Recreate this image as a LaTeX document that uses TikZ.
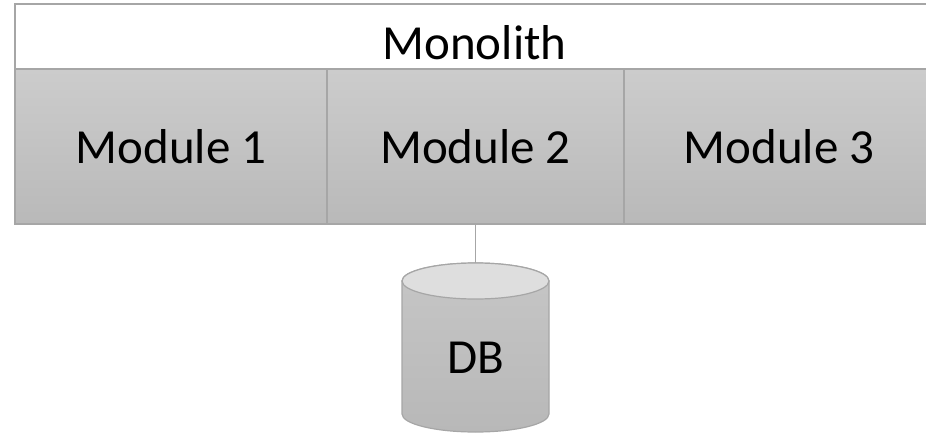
\documentclass[tikz,border=0pt]{standalone}
\usepackage{fontspec}
\setmainfont{Carlito}
\definecolor{edge}{RGB}{166,166,166}
\definecolor{modtop}{RGB}{204,204,204}
\definecolor{modbot}{RGB}{185,185,185}
\definecolor{dbupper}{RGB}{198,198,198}
\definecolor{dblower}{RGB}{184,184,184}
\definecolor{dbcap}{RGB}{222,222,222}
\tikzset{
  bigtext/.style={font=\fontsize{49}{58}\selectfont},
  frame/.style={draw=edge, line width=1.5pt, inner sep=0pt, outer sep=0pt},
  modbox/.style={frame, top color=modtop, bottom color=modbot,
    minimum height=155pt, bigtext},
  headbox/.style={frame, fill=white, minimum height=65pt},
  label/.style={bigtext, anchor=base, inner sep=0pt},
  link/.style={draw=edge, line width=1.5pt},
  dbedge/.style={draw=edge, line width=1.2pt}
}
\begin{document}
\begin{tikzpicture}[x=1pt, y=-1pt]
  \useasboundingbox (0,0) rectangle (926,433);
  \clip (0,0) rectangle (926,433);
  % monolith header
  \node[headbox, minimum width=919pt] (mono) at (474.5,36.5) {};
  \node[label] (monotext) at (474.5,60) {Monolith};
  % modules
  \node[modbox, minimum width=312pt] (m1) at (171,146.5) {Module 1};
  \node[modbox, minimum width=297pt] (m2) at (475.5,146.5) {Module 2};
  \node[modbox, minimum width=310pt] (m3) at (779,146.5) {Module 3};
  % database cylinder
  \path[dbedge, top color=dbupper, bottom color=dblower]
    (402,281) -- (402,414) arc[start angle=180, end angle=360, x radius=73.5, y radius=-18]
    -- (549,281) arc[start angle=0, end angle=180, x radius=73.5, y radius=-18] -- cycle;
  \path[dbedge, fill=dbcap] (475.5,281) ellipse[x radius=73.5, y radius=18];
  \coordinate (dbtop) at (475.5,263);
  \node[label] (db) at (475.5,373) {DB};
  \draw[link] (m2.south) -- (dbtop);
\end{tikzpicture}
\end{document}
